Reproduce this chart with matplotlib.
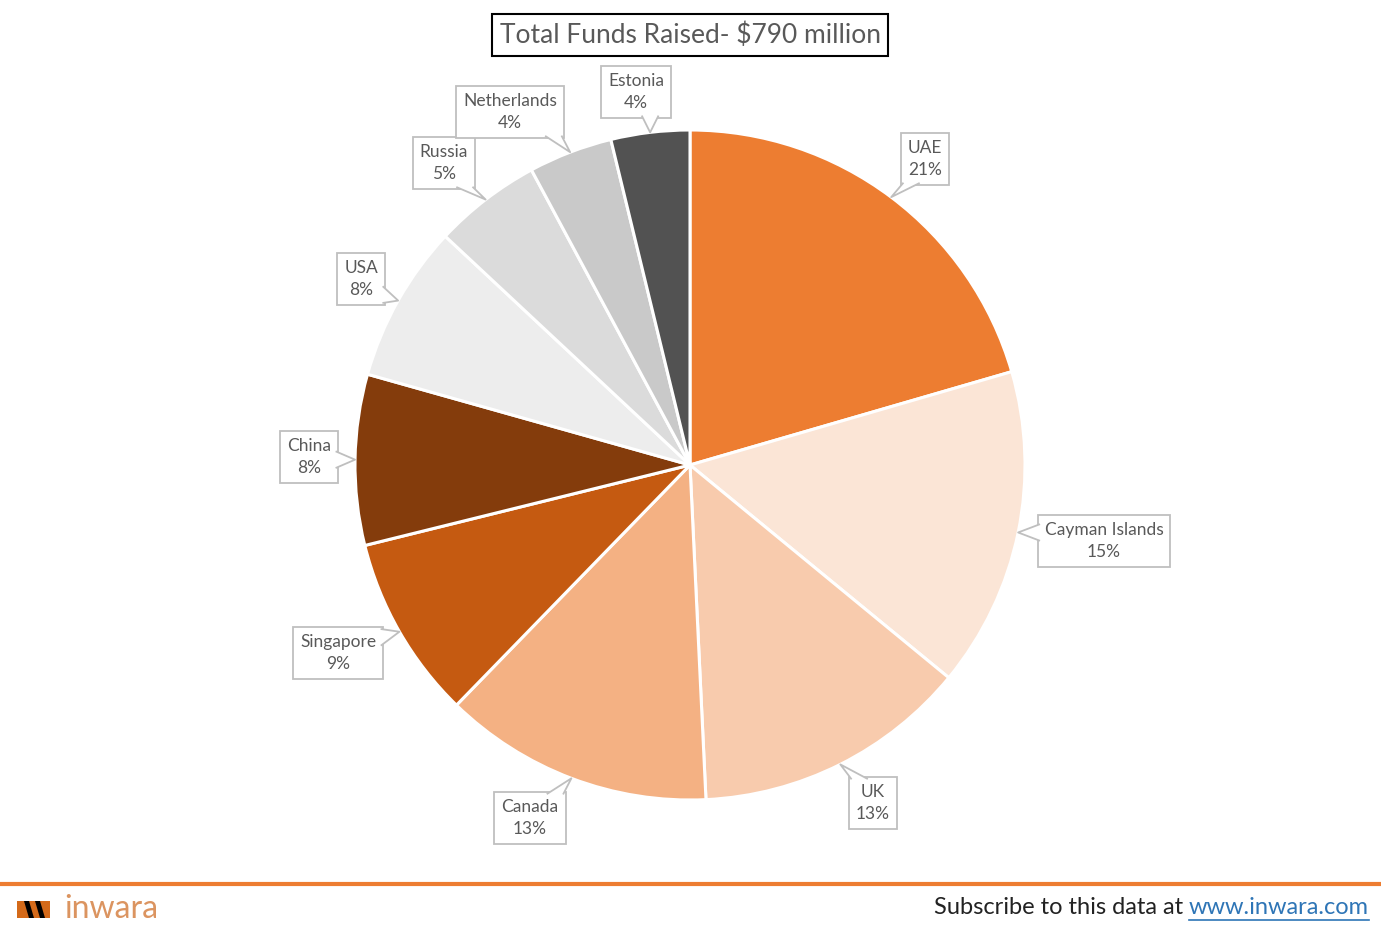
import numpy as np
import matplotlib
matplotlib.use('Agg')
import matplotlib.pyplot as plt
from matplotlib.patches import Polygon

# данные
countries = ['UAE', 'Cayman Islands', 'UK', 'Canada', 'Singapore', 'China',
             'USA', 'Russia', 'Netherlands', 'Estonia']
funds = [162, 122, 105, 103, 70, 65, 60, 41, 32, 30]  # $ млн
colors = ['#ED7D31', '#FBE5D6', '#F8CBAD', '#F4B183', '#C55A11', '#843C0C',
          '#EDEDED', '#DBDBDB', '#C9C9C9', '#525252']

# положения подписей (пиксели)
label_pos = [(925, 159), (1104, 541), (873, 803), (530, 818), (338, 653),
             (309, 457), (361, 279), (444, 163), (510, 112), (636, 92)]

W, H = 1381, 931
cx, cy, R = 690, 465, 335
box_ec = '#BFBFBF'


def fx(px):
    return px / W


def fy(py):
    return 1 - py / H


fig = plt.figure(figsize=(W / 100, H / 100), dpi=100)
plt.rcParams['font.family'] = ['Lato', 'DejaVu Sans']

ax = fig.add_axes([(cx - R) / W, (H - cy - R) / H, 2 * R / W, 2 * R / H])
wedges, _ = ax.pie(funds, colors=colors, startangle=90, counterclock=False,
                   radius=1, wedgeprops=dict(edgecolor='white', linewidth=2.2))
ax.set_xlim(-1, 1)
ax.set_ylim(-1, 1)
ax.axis('off')

# подписи-выноски
total = sum(funds)
labels = []
tips = []
for w, name, val, (px, py) in zip(wedges, countries, funds, label_pos):
    mid = np.deg2rad((w.theta1 + w.theta2) / 2)
    tips.append((np.cos(mid), np.sin(mid)))
    lx, ly = (px - cx) / R, (cy - py) / R
    t = ax.text(lx, ly, f'{name}\n{val / total * 100:.0f}%', ha='center', va='center',
                fontsize=12.5, color='#595959', linespacing=1.45, zorder=5,
                bbox=dict(boxstyle='square,pad=0.4', fc='white', ec=box_ec, lw=1.3))
    labels.append(t)

fig.canvas.draw()
r = fig.canvas.get_renderer()
inv = fig.transFigure.inverted()
for t, (tx, ty) in zip(labels, tips):
    bx = t.get_bbox_patch().get_window_extent(r)
    tip = ax.transData.transform((tx, ty))
    dx = tip[0] - np.clip(tip[0], bx.x0, bx.x1)
    dy = tip[1] - np.clip(tip[1], bx.y0, bx.y1)
    half = 8
    if abs(dx) > abs(dy):
        xs = bx.x1 - 1.5 if dx > 0 else bx.x0 + 1.5
        c = np.clip(tip[1], bx.y0 + half + 2, bx.y1 - half - 2)
        a, b = (xs, c - half), (xs, c + half)
    else:
        ys = bx.y1 - 1.5 if dy > 0 else bx.y0 + 1.5
        c = np.clip(tip[0], bx.x0 + half + 2, bx.x1 - half - 2)
        a, b = (c - half, ys), (c + half, ys)
    pts = inv.transform([a, tip, b])
    fig.add_artist(Polygon(pts, closed=True, fc='white', ec='none',
                           transform=fig.transFigure, zorder=6))
    fig.add_artist(plt.Line2D(pts[:, 0], pts[:, 1], color=box_ec, lw=1.3,
                              transform=fig.transFigure, zorder=7))

# заголовок
fig.text(fx(690), fy(35), 'Total Funds Raised- $790 million', ha='center', va='center',
         fontsize=19, color='#595959',
         bbox=dict(boxstyle='square,pad=0.3', fc='white', ec='black', lw=1.5))

# подвал
fig.add_artist(plt.Line2D([0, 1], [fy(884), fy(884)], color='#ED7D31', lw=3))

# логотип
fig.add_artist(Polygon([(fx(17), fy(901)), (fx(50), fy(901)), (fx(50), fy(918)),
                        (fx(17), fy(918))], closed=True, fc='#D46A1A', ec='none',
                       transform=fig.transFigure))
for x0 in (24, 35):
    fig.add_artist(Polygon([(fx(x0), fy(901)), (fx(x0 + 5), fy(901)),
                            (fx(x0 + 10), fy(918)), (fx(x0 + 5), fy(918))],
                           closed=True, fc='black', ec='none',
                           transform=fig.transFigure))
fig.text(fx(64), fy(909), 'inwara', ha='left', va='center', fontsize=23,
         color='#DB9460')

sub = fig.text(fx(1369), fy(908), 'Subscribe to this data at www.inwara.com',
               ha='right', va='center', fontsize=17, color='white')
bb = sub.get_window_extent(r)
sub.set_visible(False)
t1 = fig.text(bb.x0 / W, fy(908), 'Subscribe to this data at ', ha='left', va='center',
              fontsize=17, color='#222222')
b1 = t1.get_window_extent(r)
t2 = fig.text(b1.x1 / W, fy(908), 'www.inwara.com', ha='left', va='center',
              fontsize=17, color='#2E75B6')
b2 = t2.get_window_extent(r)
fig.add_artist(plt.Line2D([b2.x0 / W, b2.x1 / W], [fy(920), fy(920)],
                          color='#2E75B6', lw=1.2))

plt.savefig('out.png', dpi=100)
